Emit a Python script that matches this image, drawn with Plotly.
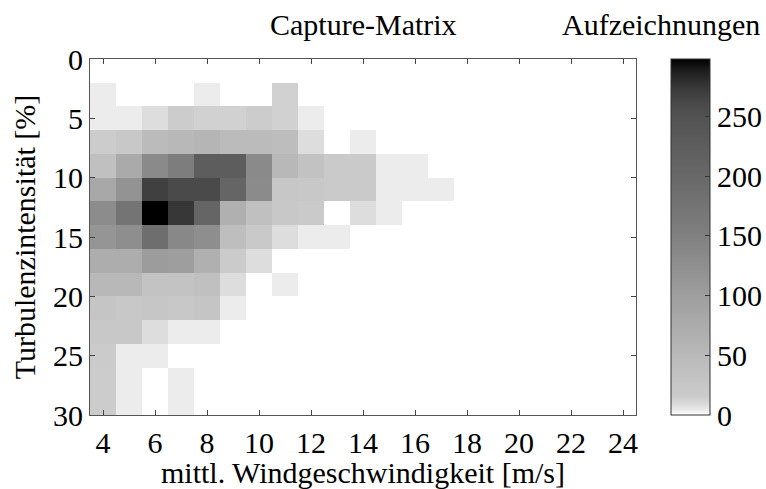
import plotly.graph_objects as go

# bin centres
wind_speed = list(range(4, 25))            # m/s, 21 columns
turbulence = list(range(1, 30, 2))         # %, 15 rows (bin width 2)

# counts per cell (rows = turbulence bins top->bottom, cols = wind speed 4..24)
counts = [
    [0,   0,   0,   0,   0,   0,   0,   0,  0,  0,  0,  0,  0,  0, 0, 0, 0, 0, 0, 0, 0],   # 0-2
    [4,   0,   0,   0,   4,   0,   0,  13,  0,  0,  0,  0,  0,  0, 0, 0, 0, 0, 0, 0, 0],   # 2-4
    [4,   4,   8,  15,  13,  13,  15,  13,  4,  0,  0,  0,  0,  0, 0, 0, 0, 0, 0, 0, 0],   # 4-6
    [15, 22,  46,  52,  57,  46,  46,  43,  8,  0,  4,  0,  0,  0, 0, 0, 0, 0, 0, 0, 0],   # 6-8
    [37, 78, 133, 156, 225, 225, 133,  52, 33, 19, 19,  4,  4,  0, 0, 0, 0, 0, 0, 0, 0],   # 8-10
    [81, 118, 268, 260, 260, 207, 132, 25, 22, 19, 19,  4,  4,  4, 0, 0, 0, 0, 0, 0, 0],   # 10-12
    [130, 175, 298, 275, 207, 67, 37,  22, 18,  0,  8,  4,  0,  0, 0, 0, 0, 0, 0, 0, 0],   # 12-14
    [115, 127, 187, 137, 127, 40, 20,   8,  4,  4,  0,  0,  0,  0, 0, 0, 0, 0, 0, 0, 0],   # 14-16
    [72,  72, 103, 100,  67,  17,  8,   0,  0,  0,  0,  0,  0,  0, 0, 0, 0, 0, 0, 0, 0],   # 16-18
    [52,  52,  31,  31,  37,   8,  0,   4,  0,  0,  0,  0,  0,  0, 0, 0, 0, 0, 0, 0, 0],   # 18-20
    [28,  22,  26,  22,  28,   4,  0,   0,  0,  0,  0,  0,  0,  0, 0, 0, 0, 0, 0, 0, 0],   # 20-22
    [22,  22,   8,   4,   4,   0,  0,   0,  0,  0,  0,  0,  0,  0, 0, 0, 0, 0, 0, 0, 0],   # 22-24
    [17,   4,   4,   0,   0,   0,  0,   0,  0,  0,  0,  0,  0,  0, 0, 0, 0, 0, 0, 0, 0],   # 24-26
    [15,   4,   0,   4,   0,   0,  0,   0,  0,  0,  0,  0,  0,  0, 0, 0, 0, 0, 0, 0, 0],   # 26-28
    [15,   4,   0,   4,   0,   0,  0,   0,  0,  0,  0,  0,  0,  0, 0, 0, 0, 0, 0, 0, 0],   # 28-30
]

x_ticks = [4, 6, 8, 10, 12, 14, 16, 18, 20, 22, 24]
y_ticks = [0, 5, 10, 15, 20, 25, 30]
cbar_ticks = [0, 50, 100, 150, 200, 250]

zmax = 298
grey_stops = [(0, 255), (4, 236), (8, 221), (15, 204), (50, 185), (100, 158),
              (150, 128), (200, 104), (250, 82), (262, 72), (275, 55), (290, 25), (298, 0)]
colorscale = [[v / zmax, f"rgb({g},{g},{g})"] for v, g in grey_stops]

FONT = "Liberation Serif, Times New Roman, serif"
FS = 30

fig = go.Figure(go.Heatmap(
    x=wind_speed, y=turbulence, z=counts,
    zmin=0, zmax=zmax, colorscale=colorscale,
    xgap=0, ygap=0,
    colorbar=dict(
        x=1.0636, xanchor="left", y=0.5, yanchor="middle",
        len=1.0, lenmode="fraction", thickness=39, thicknessmode="pixels",
        outlinewidth=1, outlinecolor="#333",
        ticks="inside", ticklen=5, tickcolor="#333",
        tickvals=cbar_ticks, ticktext=[str(t) for t in cbar_ticks],
        tickfont=dict(family=FONT, size=FS, color="black"),
        xpad=0, ypad=0,
    ),
))

fig.update_layout(
    width=766, height=489,
    margin=dict(l=90, r=130, t=59, b=74, autoexpand=False),
    paper_bgcolor="white", plot_bgcolor="white",
    font=dict(family=FONT, size=FS, color="black"),
    xaxis=dict(
        range=[3.5, 24.5], tickvals=x_ticks, ticks="inside", ticklen=5,
        tickcolor="#444", showline=True, linecolor="#555", linewidth=1,
        mirror="ticks", showgrid=False, zeroline=False,
        tickfont=dict(family=FONT, size=FS), ticklabelstandoff=1,
        title=dict(text="mittl. Windgeschwindigkeit [m/s]", standoff=6,
                   font=dict(family=FONT, size=FS)),
    ),
    yaxis=dict(
        range=[30, 0], tickvals=y_ticks, ticks="inside", ticklen=5,
        tickcolor="#444", showline=True, linecolor="#555", linewidth=1,
        mirror="ticks", showgrid=False, zeroline=False,
        tickfont=dict(family=FONT, size=FS),
        title=dict(text="Turbulenzintensität [%]", standoff=8,
                   font=dict(family=FONT, size=FS)),
    ),
    annotations=[
        dict(text="Capture-Matrix", x=0.5, y=1.097, xref="paper", yref="paper",
             xanchor="center", yanchor="middle", showarrow=False,
             font=dict(family=FONT, size=FS)),
        dict(text="Aufzeichnungen", x=1.2308, y=1.097, xref="paper", yref="paper",
             xanchor="right", yanchor="middle", showarrow=False,
             font=dict(family=FONT, size=FS)),
    ],
)

fig.write_html("out.html")
